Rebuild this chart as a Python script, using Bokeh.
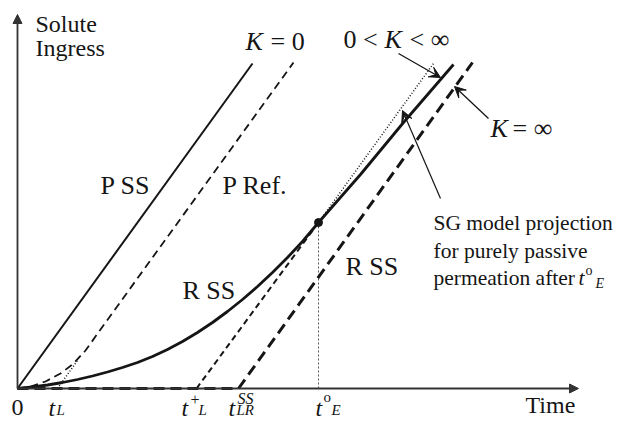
from bokeh.plotting import figure
from bokeh.models import Range1d, Arrow, VeeHead, NormalHead
from bokeh.core.properties import value
from bokeh.embed import file_html
from bokeh.resources import INLINE

# ---- schematic data (time, solute ingress) in arbitrary units ----
p_ss_t = [0, 235]
p_ss_q = [0, 325]
p_ref_t = [0, 13, 28, 43, 55, 68, 83, 276]
p_ref_q = [0, 2, 7, 15, 24, 38, 59, 326]
p_ref_asym_t = [40, 60]
p_ref_asym_q = [0, 28]
r_ss_t = [0, 15, 30, 45, 60, 75, 90, 105, 120, 135, 150, 165, 180, 195, 210,
          225, 240, 255, 270, 285, 301]
r_ss_q = [0, 1.5, 3.5, 6, 9, 12.5, 16.5, 21, 26, 32, 39, 47, 56, 66, 77,
          89, 102, 116, 131, 147, 166]
r_after_t = [301, 343, 386, 436]
r_after_q = [166, 214, 266, 324]
tplus_t = [179, 301]
tplus_q = [0, 166]
sg_t = [301, 416]
sg_q = [166, 325]
kinf_t = [0, 221, 455]
kinf_q = [0, 0, 326]
tE_line_t = [301, 301]
tE_line_q = [0, 166]
dot_t = [301]
dot_q = [166]

FONT = value("Liberation Serif")
INK = "#151515"

p = figure(width=626, height=421, output_backend="svg", toolbar_location=None,
           x_range=Range1d(-17, 609), y_range=Range1d(-33, 388),
           min_border=0, x_axis_type=None, y_axis_type=None)
p.grid.visible = False
p.outline_line_color = None
p.background_fill_color = "white"
p.border_fill_color = "white"

# axes as arrows
p.add_layout(Arrow(end=NormalHead(size=9, fill_color="#333", line_color="#333"),
                   x_start=0, y_start=0, x_end=0, y_end=374,
                   line_color="#333", line_width=1.8))
p.add_layout(Arrow(end=NormalHead(size=9, fill_color="#333", line_color="#333"),
                   x_start=0, y_start=0, x_end=561, y_end=0,
                   line_color="#333", line_width=1.8))

# curves
p.line(p_ss_t, p_ss_q, line_color=INK, line_width=2)
p.line(p_ref_t, p_ref_q, line_color=INK, line_width=1.8, line_dash="8 5")
p.line(p_ref_asym_t, p_ref_asym_q, line_color=INK, line_width=1.5, line_dash="1 2")
p.line(tE_line_t, tE_line_q, line_color="#555", line_width=1, line_dash="2 2")
p.line(tplus_t, tplus_q, line_color=INK, line_width=2, line_dash="6 4")
p.line(sg_t, sg_q, line_color=INK, line_width=1.5, line_dash="1 2")
p.line(kinf_t, kinf_q, line_color=INK, line_width=3, line_dash="11 6")
p.line(r_ss_t, r_ss_q, line_color=INK, line_width=2.8, line_join="round")
p.line(r_after_t, r_after_q, line_color=INK, line_width=2.8)
p.scatter(dot_t, dot_q, size=8, color=INK)

# annotation arrows
for xs, ys, xe, ye in [(381, 335, 423, 311), (471, 270, 437, 302), (423, 190, 385, 278)]:
    p.add_layout(Arrow(end=VeeHead(size=11, fill_color=INK, line_color=INK, line_width=1),
                       x_start=xs, y_start=ys, x_end=xe, y_end=ye,
                       line_color=INK, line_width=1.2))


def txt(x, y, s, size, style="normal", align="left"):
    p.text(x=[x], y=[y], text=[s], text_font=FONT, text_font_size=f"{size}px",
           text_font_style=style, text_color=INK, text_baseline="alphabetic",
           text_align=align)


# axis titles
txt(18, 365, "Solute", 24)
txt(18, 341, "Ingress", 24)
txt(508, -16, "Time", 24)

# tick labels
txt(0, -19, "0", 24, align="center")
txt(31, -19, "t", 24, "italic")
txt(39, -21, "L", 15, "italic")
txt(164, -19, "t", 24, "italic")
txt(173, -11, "+", 16)
txt(181, -21, "L", 15, "italic")
txt(211, -19, "t", 24, "italic")
txt(220, -10, "SS", 16, "italic")
txt(219, -21, "LR", 15, "italic")
txt(298, -19, "t", 24, "italic")
txt(306, -8, "o", 15)
txt(314, -21, "E", 15, "italic")

# curve labels
txt(83, 203, "P SS", 26)
txt(205, 203, "P Ref.", 26)
txt(165, 98, "R SS", 26)
txt(328, 122, "R SS", 26)

# K labels
txt(228, 347, "K", 26, "italic")
txt(253, 347, "= 0", 26)
txt(326, 349, "0 <", 26)
txt(367, 349, "K", 26, "italic")
txt(392, 349, "< \u221e", 26)
txt(473, 260, "K", 26, "italic")
txt(495, 260, "= \u221e", 26)

# SG note
txt(416, 166, "SG model projection", 21.5)
txt(416, 138, "for purely passive", 21.5)
txt(416, 111, "permeation after", 21.5)
txt(561, 111, "t", 21.5, "italic")
txt(568, 118, "o", 14)
txt(578, 105, "E", 14, "italic")

open("out.html", "w").write(file_html(p, INLINE))
